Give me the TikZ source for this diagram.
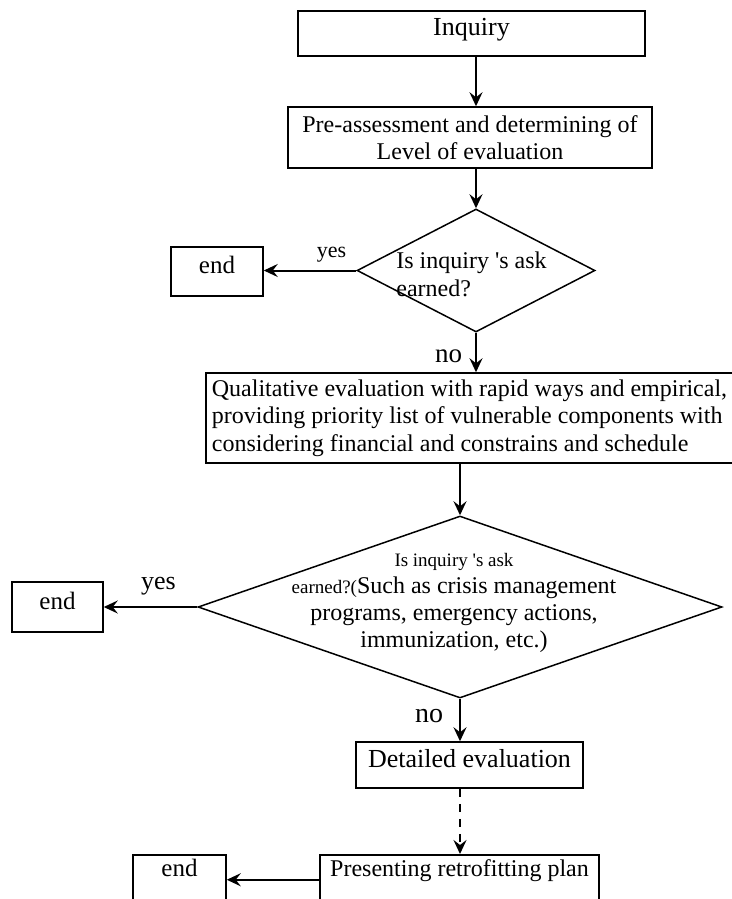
\documentclass[tikz,border=0pt]{standalone}
\usepackage{fontspec}
\setmainfont{Liberation Serif}
\usetikzlibrary{shapes.geometric,arrows.meta}

\begin{document}
\begin{tikzpicture}[x=0.5pt,y=-0.5pt,
        box/.style={draw,line width=0.75pt,inner sep=3pt,font=\fontsize{12}{13.8}\selectfont},
        onebox/.style={box,text height=8pt,text depth=6pt},
        ask/.style={draw,diamond,line width=0.75pt,inner sep=0pt},
        flow/.style={line width=1pt,-{Stealth[length=7pt,width=6.5pt,inset=2.5pt]}},
        tag/.style={anchor=base,inner sep=0pt}]
    	\useasboundingbox (0,0) rectangle (732,899);
    	\node[onebox,minimum width=173.5pt,minimum height=22.5pt,font=\fontsize{13}{15}\selectfont] (inq) at (471.5,33.5) {Inquiry};
    	\node[box,align=center,minimum width=182pt,minimum height=30.5pt] (pre) at (470,137.5) {Pre-assessment and determining of\\Level of evaluation};
    	\node[ask,minimum width=119pt,minimum height=61.5pt] (ask1) at (476,270.5) {};
    	\node[align=left,inner sep=0pt,font=\fontsize{12}{14.2}\selectfont] (ask1txt) at (471.5,274.5) {Is inquiry \textquotesingle s ask\\earned?};
    	\node[onebox,minimum width=46pt,minimum height=24.5pt,font=\fontsize{12.5}{14}\selectfont] (end1) at (217,271.5) {end};
    	\node[box,align=left,minimum width=261.5pt,minimum height=45pt] (qual) at (469.5,418) {Qualitative evaluation with rapid ways and empirical,\\providing priority list of vulnerable components with\\considering financial and constrains and schedule};
    	\node[ask,minimum width=262pt,minimum height=91pt] (ask2) at (460,607) {};
    	\node[align=center,inner sep=0pt,font=\fontsize{12}{13.5}\selectfont] (ask2txt) at (454,602.5) {{\fontsize{9.5}{11}\selectfont Is inquiry \textquotesingle s ask}\\{\fontsize{9.5}{11}\selectfont earned?(}Such as crisis management\\programs, emergency actions,\\immunization, etc.)};
    	\node[onebox,minimum width=45.5pt,minimum height=25pt,font=\fontsize{12.5}{14}\selectfont] (end2) at (57.5,607) {end};
    	\node[onebox,minimum width=113.5pt,minimum height=23pt,font=\fontsize{13}{15}\selectfont] (det) at (469.5,765) {Detailed evaluation};
    	\node[box,anchor=north,minimum width=139.5pt,text height=8pt,text depth=11pt] (pres) at (459.5,854) {Presenting retrofitting plan};
    	\node[box,anchor=north,minimum width=46.5pt,text height=8pt,text depth=11pt,font=\fontsize{12.5}{14}\selectfont] (end3) at (179.5,854) {end};
    	\node[tag,font=\fontsize{11}{13}\selectfont] (yes1) at (331.5,257) {yes};
    	\node[tag,font=\fontsize{13.5}{16}\selectfont] (no1) at (448.5,362) {no};
    	\node[tag,font=\fontsize{13}{15}\selectfont] (yes2) at (158.5,589) {yes};
    	\node[tag,font=\fontsize{14}{16}\selectfont] (no2) at (429,722) {no};
    	\draw[flow] (inq.south -| ask1.north) -- (pre.north -| ask1.north);
    	\draw[flow] (pre.south -| ask1.north) -- (ask1.north);
    	\draw[flow] (ask1.west) -- (ask1.west -| end1.east);
    	\draw[flow] (ask1.south) -- (ask1.south |- qual.north);
    	\draw[flow] (qual.south -| ask2.north) -- (ask2.north);
    	\draw[flow] (ask2.west) -- (ask2.west -| end2.east);
    	\draw[flow] (ask2.south) -- (ask2.south |- det.north);
    	\draw[flow,dash pattern=on 4pt off 3.5pt] (det.south -| ask2.south) -- (pres.north -| ask2.south);
    	\draw[flow] (pres.west) -- (pres.west -| end3.east);
    	\end{tikzpicture}
\end{document}
